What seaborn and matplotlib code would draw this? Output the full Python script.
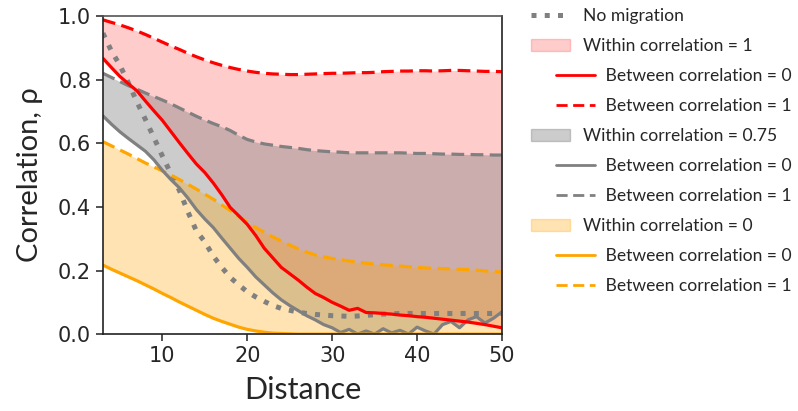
import numpy as np
import pandas as pd
import matplotlib
matplotlib.use("Agg")
import matplotlib.pyplot as plt
import seaborn as sns
from matplotlib.lines import Line2D
from matplotlib.patches import Patch
from matplotlib.legend_handler import HandlerLine2D

distance = list(range(3, 51))

red_between1 = [0.988, 0.980, 0.972, 0.963, 0.953, 0.942, 0.930, 0.918, 0.906, 0.895,
                0.883, 0.872, 0.862, 0.853, 0.845, 0.838, 0.832, 0.827, 0.823, 0.820,
                0.818, 0.817, 0.816, 0.816, 0.817, 0.818, 0.819, 0.820, 0.820, 0.821,
                0.822, 0.822, 0.823, 0.825, 0.826, 0.827, 0.827, 0.828, 0.828, 0.827,
                0.828, 0.829, 0.829, 0.828, 0.827, 0.826, 0.826, 0.825]
red_between0 = [0.867, 0.838, 0.810, 0.787, 0.765, 0.733, 0.702, 0.672, 0.637, 0.602,
                0.568, 0.535, 0.508, 0.475, 0.438, 0.398, 0.372, 0.345, 0.310, 0.270,
                0.240, 0.210, 0.190, 0.170, 0.148, 0.128, 0.115, 0.100, 0.088, 0.075,
                0.081, 0.068, 0.067, 0.065, 0.063, 0.060, 0.058, 0.055, 0.053, 0.050,
                0.047, 0.044, 0.041, 0.038, 0.034, 0.030, 0.025, 0.020]
gray_between1 = [0.820, 0.807, 0.794, 0.781, 0.770, 0.758, 0.747, 0.736, 0.724, 0.711,
                 0.698, 0.685, 0.673, 0.662, 0.652, 0.640, 0.625, 0.612, 0.604, 0.598,
                 0.594, 0.590, 0.587, 0.584, 0.580, 0.577, 0.575, 0.573, 0.572, 0.570,
                 0.570, 0.570, 0.570, 0.570, 0.570, 0.570, 0.569, 0.568, 0.568, 0.567,
                 0.566, 0.566, 0.565, 0.565, 0.564, 0.564, 0.563, 0.563]
gray_between0 = [0.686, 0.660, 0.636, 0.615, 0.595, 0.575, 0.548, 0.515, 0.486, 0.460,
                 0.428, 0.392, 0.362, 0.335, 0.302, 0.270, 0.238, 0.210, 0.180, 0.155,
                 0.130, 0.108, 0.090, 0.074, 0.058, 0.045, 0.030, 0.020, 0.005, 0.015,
                 0.000, 0.010, 0.000, 0.017, 0.004, 0.012, 0.000, 0.022, 0.010, 0.000,
                 0.030, 0.040, 0.020, 0.045, 0.055, 0.035, 0.050, 0.070]
orange_between1 = [0.605, 0.592, 0.579, 0.566, 0.552, 0.538, 0.526, 0.513, 0.500, 0.486,
                   0.471, 0.456, 0.440, 0.424, 0.406, 0.389, 0.370, 0.352, 0.335, 0.320,
                   0.306, 0.293, 0.280, 0.268, 0.258, 0.249, 0.243, 0.238, 0.234, 0.230,
                   0.226, 0.223, 0.220, 0.218, 0.216, 0.214, 0.212, 0.210, 0.208, 0.207,
                   0.206, 0.205, 0.204, 0.203, 0.201, 0.199, 0.197, 0.195]
orange_between0 = [0.217, 0.204, 0.192, 0.180, 0.168, 0.155, 0.142, 0.128, 0.115, 0.101,
                   0.088, 0.075, 0.062, 0.050, 0.040, 0.031, 0.022, 0.015, 0.010, 0.006,
                   0.003, 0.002, 0.001, 0.000, 0.000, 0.000, 0.000, 0.000, 0.000, 0.000,
                   0.000, 0.000, 0.000, 0.000, 0.000, 0.000, 0.000, 0.000, 0.000, 0.000,
                   0.000, 0.000, 0.000, 0.000, 0.000, 0.000, 0.000, 0.000]
no_migration = [0.946, 0.890, 0.845, 0.790, 0.730, 0.675, 0.618, 0.560, 0.505, 0.452,
                0.385, 0.325, 0.290, 0.245, 0.210, 0.178, 0.155, 0.133, 0.117, 0.103,
                0.090, 0.081, 0.075, 0.069, 0.065, 0.062, 0.060, 0.058, 0.057, 0.056,
                0.057, 0.059, 0.061, 0.063, 0.064, 0.065, 0.065, 0.065, 0.065, 0.065,
                0.065, 0.065, 0.065, 0.065, 0.065, 0.065, 0.065, 0.065]

x_ticks = [10, 20, 30, 40, 50]
y_ticks = [0.0, 0.2, 0.4, 0.6, 0.8, 1.0]

RED, GRAY, ORANGE = "#ff0000", "#808080", "#ffa500"

sns.set_style("ticks")
plt.rcParams["font.family"] = ["Lato", "DejaVu Sans"]

fig = plt.figure(figsize=(7.98, 4.11), dpi=100)
ax = fig.add_axes([0.129, 0.187, 0.5, 0.774])

# bands
ax.fill_between(distance, red_between0, red_between1, color=RED, alpha=0.2, lw=0)
ax.fill_between(distance, gray_between0, gray_between1, color=GRAY, alpha=0.4, lw=0)
ax.fill_between(distance, orange_between0, orange_between1, color=ORANGE, alpha=0.3, lw=0)

dash = (0, (4, 2))
sns.lineplot(x=distance, y=no_migration, ax=ax, color=GRAY, lw=3.6, linestyle=":")
sns.lineplot(x=distance, y=red_between1, ax=ax, color=RED, lw=2.3, linestyle=dash)
sns.lineplot(x=distance, y=gray_between1, ax=ax, color=GRAY, lw=2.3, linestyle=dash)
sns.lineplot(x=distance, y=orange_between1, ax=ax, color=ORANGE, lw=2.3, linestyle=dash)
sns.lineplot(x=distance, y=gray_between0, ax=ax, color=GRAY, lw=2.3)
sns.lineplot(x=distance, y=orange_between0, ax=ax, color=ORANGE, lw=2.3)
sns.lineplot(x=distance, y=red_between0, ax=ax, color=RED, lw=2.3)

ax.set_xlim(3, 50)
ax.set_ylim(0, 1.0)
ax.set_xticks(x_ticks)
ax.set_yticks(y_ticks)
ax.set_xticklabels([str(t) for t in x_ticks], fontdict={"family": "DejaVu Sans", "size": 15})
ax.set_yticklabels([f"{t:.1f}" for t in y_ticks], fontdict={"family": "DejaVu Sans", "size": 15})
ax.tick_params(length=5, width=1.2, color="#333333")
for lab in ax.get_xticklabels() + ax.get_yticklabels():
    lab.set_fontfamily("DejaVu Sans")
    lab.set_fontsize(15)
for s in ax.spines.values():
    s.set_visible(True)
    s.set_color("#222222")
    s.set_linewidth(1.2)
ax.spines["top"].set_color("#555555")

ax.set_xlabel("Distance", fontsize=22, labelpad=7)
ax.set_ylabel("Correlation, ρ", fontsize=21, labelpad=11)


class ShiftedLine(HandlerLine2D):
    def __init__(self, shift, **kw):
        super().__init__(**kw)
        self.shift = shift

    def create_artists(self, legend, orig_handle, xdescent, ydescent, width, height, fontsize, trans):
        return super().create_artists(legend, orig_handle, xdescent - self.shift, ydescent,
                                      width, height, fontsize, trans)


h_nomig = Line2D([], [], color=GRAY, lw=3.6, linestyle=":")
handles = [
    h_nomig,
    Patch(facecolor=RED, alpha=0.2, edgecolor=RED),
    Line2D([], [], color=RED, lw=2.0),
    Line2D([], [], color=RED, lw=2.0, linestyle=dash),
    Patch(facecolor=GRAY, alpha=0.4, edgecolor=GRAY),
    Line2D([], [], color=GRAY, lw=2.0),
    Line2D([], [], color=GRAY, lw=2.0, linestyle=dash),
    Patch(facecolor=ORANGE, alpha=0.3, edgecolor=ORANGE),
    Line2D([], [], color=ORANGE, lw=2.0),
    Line2D([], [], color=ORANGE, lw=2.0, linestyle=dash),
]
pad = "     "
labels = [
    "No migration",
    "Within correlation = 1",
    pad + "Between correlation = 0",
    pad + "Between correlation = 1",
    "Within correlation = 0.75",
    pad + "Between correlation = 0",
    pad + "Between correlation = 1",
    "Within correlation = 0",
    pad + "Between correlation = 0",
    pad + "Between correlation = 1",
]
hmap = {h: ShiftedLine(18) for h in handles if isinstance(h, Line2D) and h is not h_nomig}
fig.legend(handles, labels, loc="upper left", bbox_to_anchor=(524 / 798, 1 - 1 / 411),
           frameon=False, fontsize=12.6, handlelength=2.2, handletextpad=0.75,
           labelspacing=0.8, handler_map=hmap, borderaxespad=0)

fig.savefig("out.png", dpi=100)
